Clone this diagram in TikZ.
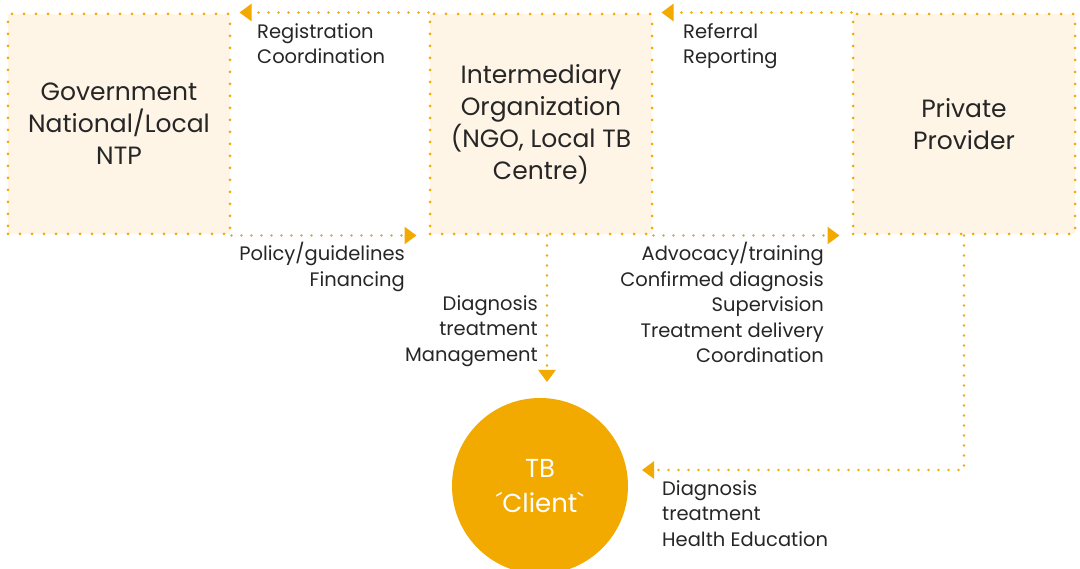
\documentclass[tikz,border=0pt]{standalone}
\usepackage{fontspec}
\setmainfont{Poppins}
\newfontfamily\rawfont{Poppins}[Ligatures=TeXOff]
\usetikzlibrary{arrows.meta}
\definecolor{tbor}{HTML}{F2A900}
\definecolor{tbfill}{HTML}{FEF5E7}
\definecolor{tbtext}{HTML}{262626}
\begin{document}
\begin{tikzpicture}[x=1pt,y=-1pt,
  box/.style={draw=tbor, fill=tbfill, line width=3pt, dash pattern=on 0pt off 12pt, line cap=round,
    minimum width=222pt, minimum height=220pt, inner sep=0pt, align=center, text=tbtext,
    font=\fontsize{25}{32}\selectfont},
  conn/.style={draw=tbor, line width=2.6pt, dash pattern=on 0pt off 10pt, line cap=round,
    -{Triangle[length=12pt,width=17pt,fill=tbor]}},
  lbl/.style={text=tbtext, inner sep=0pt, font=\fontsize{19.5}{25.5}\selectfont}
]
\useasboundingbox (0,0) rectangle (1080,569);
\node[box] (g) at (119,124) {Government\\National/Local\\NTP};
\node[box] (m) at (541,124) {Intermediary\\Organization\\(NGO, Local TB\\Centre)};
\node[box] (p) at (964,124) {Private\\Provider};
\node[circle, fill=tbor, minimum size=176pt, inner sep=0pt, text=white, align=center,
  font=\rawfont\fontsize{26}{35}\selectfont] (c) at (540,486) {TB\\´Client`};
% top arrows
\draw[conn] (m.north west) -- ([xshift=8pt]g.north east);
\draw[conn] (p.north west) -- ([xshift=8pt]m.north east);
% bottom arrows
\draw[conn] (g.south east) -- ([xshift=-12pt]m.south west);
\draw[conn] (m.south east) -- ([xshift=-12pt]p.south west);
% down arrows
\coordinate (mdown) at (547,382);
\draw[conn] (m.south -| mdown) -- (mdown);
\coordinate (pin) at (642,470);
\draw[conn] (p.south) |- (pin);
% labels
\node[lbl, anchor=north west, align=left] (l1) at (257,23) {Registration\\Coordination};
\node[lbl, anchor=north west, align=left] (l2) at (683,23) {Referral\\Reporting};
\node[lbl, anchor=north east, align=right] (l3) at (405,242) {Policy/guidelines\\Financing};
\node[lbl, anchor=north east, align=right] (l4) at (824,242) {Advocacy/training\\Confirmed diagnosis\\Supervision\\Treatment delivery\\Coordination};
\node[lbl, anchor=north east, align=right] (l5) at (538,295) {Diagnosis\\treatment\\Management};
\node[lbl, anchor=north west, align=left] (l6) at (662,480) {Diagnosis\\treatment\\Health Education};
\end{tikzpicture}
\end{document}
